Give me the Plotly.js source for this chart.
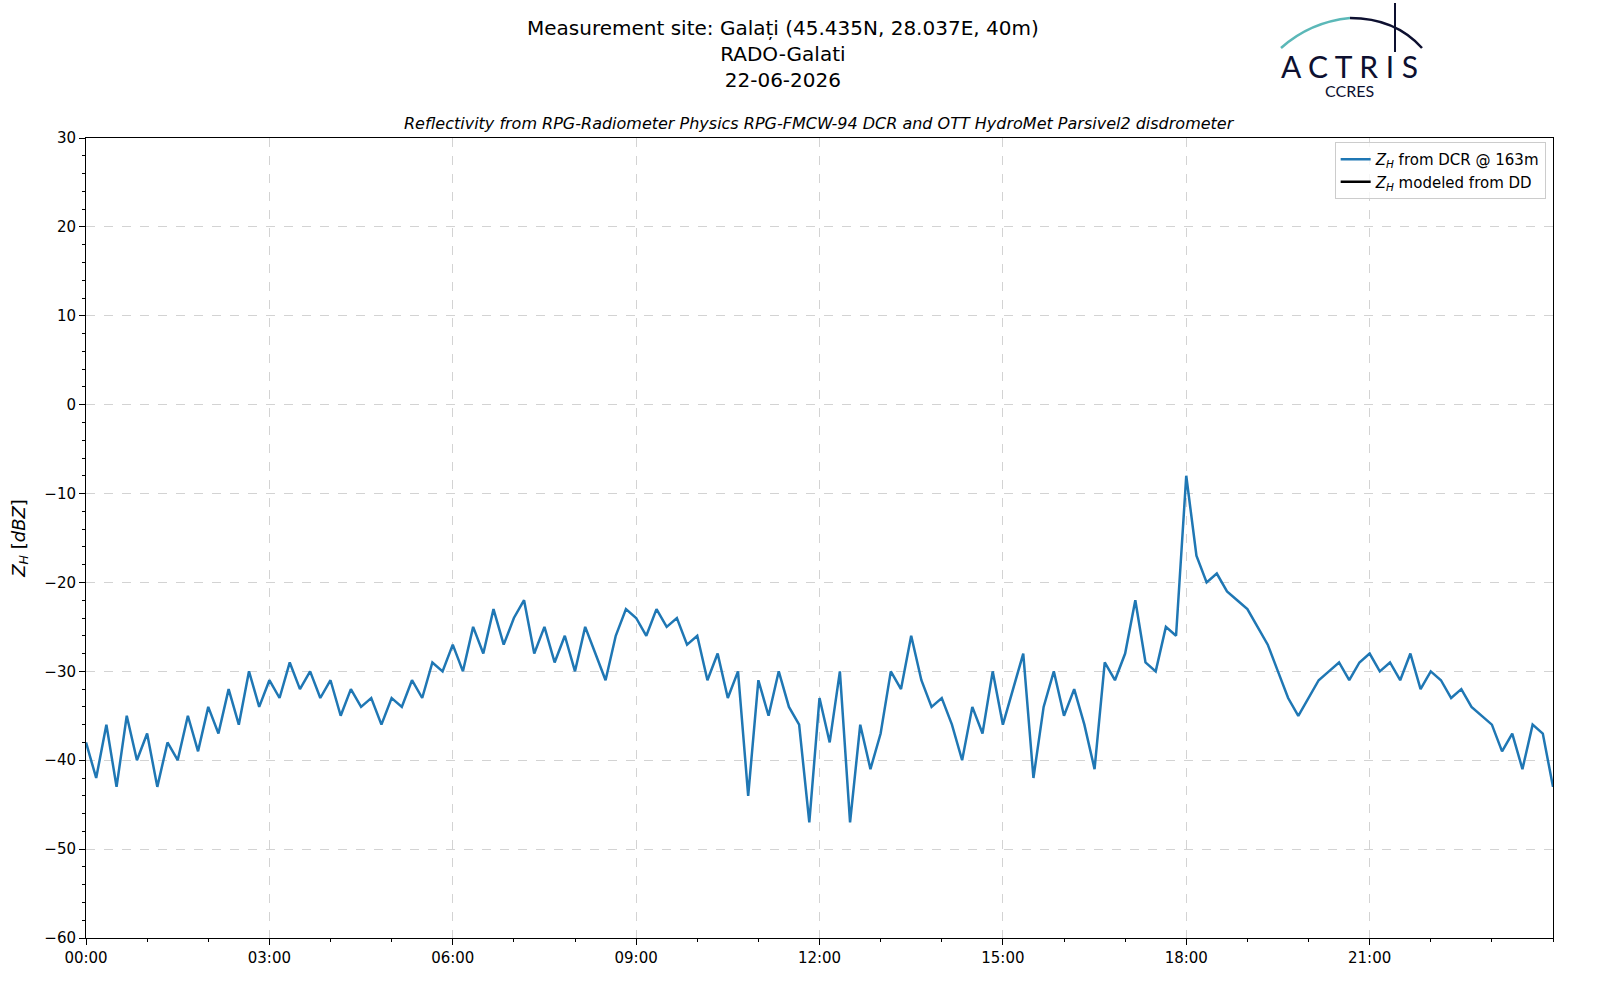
<!DOCTYPE html>
<html>
<head>
<meta charset="utf-8">
<script src="https://cdn.plot.ly/plotly-3.0.1.min.js"></script>
<style>body{margin:0;background:#fff}#plot{width:1600px;height:1000px}</style>
</head>
<body>
<div id="plot"></div>
<script>
// reflectivity every 10 minutes, 00:00 .. 24:00
const zhDcr = [
  -38,-42,-36,-43,-35,-40,
  -37,-43,-38,-40,-35,-39,
  -34,-37,-32,-36,-30,-34,
  -31,-33,-29,-32,-30,-33,
  -31,-35,-32,-34,-33,-36,
  -33,-34,-31,-33,-29,-30,
  -27,-30,-25,-28,-23,-27,
  -24,-22,-28,-25,-29,-26,
  -30,-25,-28,-31,-26,-23,
  -24,-26,-23,-25,-24,-27,
  -26,-31,-28,-33,-30,-44,
  -31,-35,-30,-34,-36,-47,
  -33,-38,-30,-47,-36,-41,
  -37,-30,-32,-26,-31,-34,
  -33,-36,-40,-34,-37,-30,
  -36,-32,-28,-42,-34,-30,
  -35,-32,-36,-41,-29,-31,
  -28,-22,-29,-30,-25,-26,
  -8,-17,-20,-19,-21,-22,
  -23,-25,-27,-30,-33,-35,
  -33,-31,-30,-29,-31,-29,
  -28,-30,-29,-31,-28,-32,
  -30,-31,-33,-32,-34,-35,
  -36,-39,-37,-41,-36,-37,
  -43
];
const hours = zhDcr.map((_, i) => i / 6);
const tickHours = [0, 3, 6, 9, 12, 15, 18, 21];
const tickLabels = ['00:00', '03:00', '06:00', '09:00', '12:00', '15:00', '18:00', '21:00'];
const zhModeled = [null];

// pixel -> paper helpers (plot area 86..1553 x 138..938)
const px = x => (x - 86) / 1467;
const py = y => (938 - y) / 800;

const traces = [
  {x: hours, y: zhDcr, type: 'scatter', mode: 'lines', name: '<i>Z</i><sub><i>H</i></sub> from DCR @ 163m',
   line: {color: '#1f77b4', width: 2.5}, showlegend: true},
  {x: [null], y: zhModeled, type: 'scatter', mode: 'lines', name: '<i>Z</i><sub><i>H</i></sub> modeled from DD',
   line: {color: '#000000', width: 2.5}, showlegend: true}
];

const axisCommon = {
  showline: true, linecolor: '#000', linewidth: 1, mirror: true,
  ticks: 'outside', ticklen: 6, tickcolor: '#000',
  showgrid: true, gridcolor: '#d3d3d3', griddash: 'dash', gridwidth: 1,
  zeroline: false, tickfont: {size: 15, color: '#000'}
};

const layout = {
  width: 1600, height: 1000,
  margin: {l: 86, r: 47, t: 138, b: 62},
  paper_bgcolor: '#fff', plot_bgcolor: '#fff',
  font: {family: 'DejaVu Sans', color: '#000'},
  showlegend: true,
  xaxis: Object.assign({}, axisCommon, {
    range: [0, 24], tickvals: tickHours, ticktext: tickLabels,
    minor: {dtick: 1, ticks: 'outside', ticklen: 3, tickcolor: '#000', showgrid: false}
  }),
  yaxis: Object.assign({}, axisCommon, {
    range: [-60, 30], dtick: 10, tickformat: 'd',
    minor: {dtick: 2, ticks: 'outside', ticklen: 3, tickcolor: '#000', showgrid: false},
    title: {text: '<i>Z</i><sub><i>H</i></sub> [<i>dBZ</i>]', font: {size: 18}, standoff: 14}
  }),
  separators: '.−',
  legend: {x: 0.995, y: 0.995, xanchor: 'right', yanchor: 'top', bgcolor: 'rgba(255,255,255,0.8)',
    bordercolor: '#ccc', borderwidth: 1, font: {size: 15}},
  annotations: [
    {text: 'Measurement site: Galați (45.435N, 28.037E, 40m)<br>RADO-Galati<br>22-06-2026',
     xref: 'paper', yref: 'paper', x: px(783), y: py(14), xanchor: 'center', yanchor: 'top',
     showarrow: false, font: {size: 20}},
    {text: '<i>Reflectivity from RPG-Radiometer Physics RPG-FMCW-94 DCR and OTT HydroMet Parsivel2 disdrometer</i>',
     xref: 'paper', yref: 'paper', x: 0.5, y: py(124), xanchor: 'center', yanchor: 'middle',
     showarrow: false, font: {size: 16}},
    {text: 'A C T R I S', xref: 'paper', yref: 'paper', x: px(1349), y: py(66), xanchor: 'center', yanchor: 'middle',
     showarrow: false, font: {size: 30, color: '#0d1030', family: 'Lato'}},
    {text: 'CCRES', xref: 'paper', yref: 'paper', x: px(1349), y: py(91), xanchor: 'center', yanchor: 'middle',
     showarrow: false, font: {size: 16, color: '#0d1030', family: 'Lato'}}
  ],
  shapes: [
    {type: 'path', xref: 'paper', yref: 'paper', line: {color: '#5bb8b8', width: 2.5},
     path: `M ${px(1281)} ${py(48)} Q ${px(1310)} ${py(22)} ${px(1350)} ${py(18)}`},
    {type: 'path', xref: 'paper', yref: 'paper', line: {color: '#0d1030', width: 2.5},
     path: `M ${px(1350)} ${py(18)} Q ${px(1395)} ${py(18)} ${px(1422)} ${py(48)}`},
    {type: 'line', xref: 'paper', yref: 'paper', x0: px(1395), x1: px(1395), y0: py(3), y1: py(52),
     line: {color: '#0d1030', width: 2}}
  ]
};

Plotly.newPlot('plot', traces, layout, {staticPlot: true});
</script>
</body>
</html>
